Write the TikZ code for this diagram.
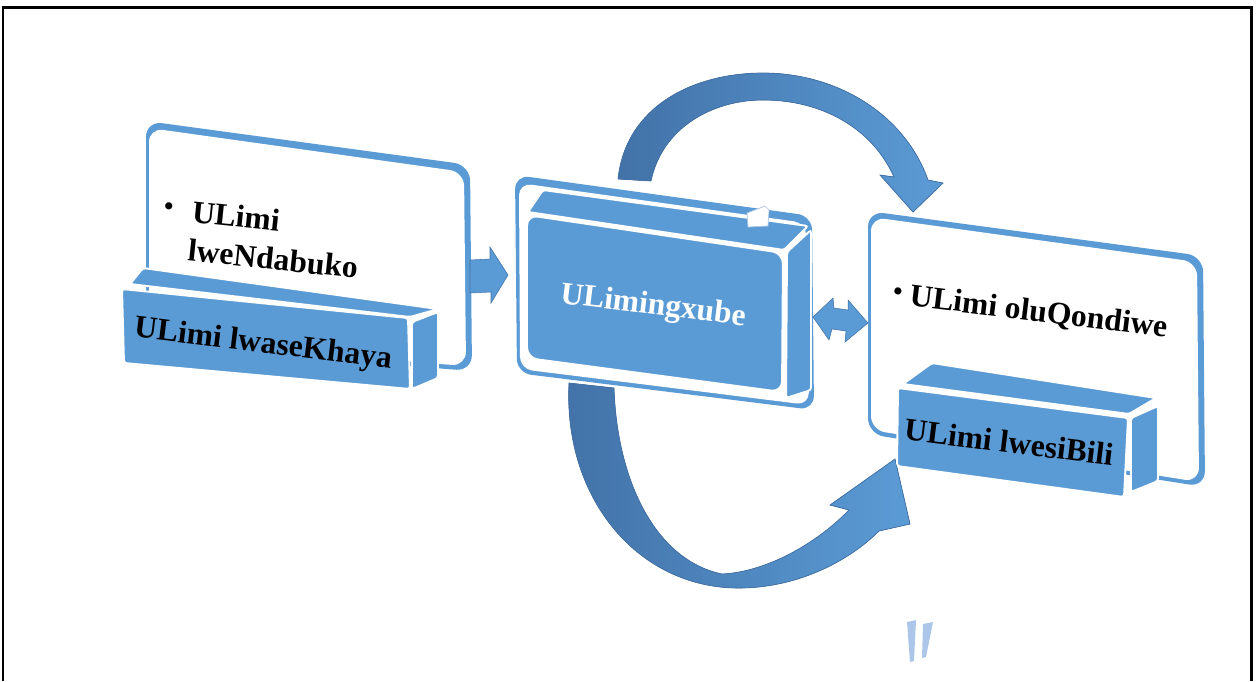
\documentclass[tikz,border=0pt]{standalone}
\usepackage{fontspec}
\setmainfont{Liberation Serif}
\definecolor{xblue}{RGB}{91,155,213}
\definecolor{xdark}{RGB}{66,114,168}
\definecolor{xpale}{RGB}{172,198,233}
\tikzset{
  face/.style={fill=xblue, draw=white, line width=1.1pt, rounded corners=1.5pt},
  lbl/.style={font=\fontsize{18}{22}\selectfont\bfseries, inner sep=0pt},
  band/.style={left color=xdark, right color=xblue, draw=xdark, line width=0.4pt}
}
\newcommand{\bul}{\raisebox{2.5pt}{\fontsize{15}{15}\selectfont\textbullet}}

\begin{document}
\begin{tikzpicture}[x=0.02cm,y=-0.02cm]
        \useasboundingbox (0,0) rectangle (1256,681);
        \draw [line width=1.7pt] (3,681) -- (3,7) -- (1251,7) -- (1251,681);

        \fill [band] (618,179) .. controls (626,105) and (695,73) .. (763,73) .. controls (838,73) and (905,115) .. (928,180)
              -- (943,183) -- (913,212) -- (880,175) -- (894,177)
              .. controls (872,128) and (822,100) .. (763,100) .. controls (712,100) and (662,128) .. (651,181) -- cycle;
        \fill [band] (569,383) .. controls (563,500) and (640,590) .. (742,588) .. controls (800,587) and (850,560) .. (879,531)
              -- (910,524) -- (895,459) -- (830,505) -- (849,510)
              .. controls (815,545) and (765,572) .. (722,574) .. controls (655,560) and (617,480) .. (614,388) -- cycle;

        \fill [xblue, rounded corners=9pt] (146,121) -- (470,165) -- (472,371) -- (146,345) -- cycle;
        \fill [white, rounded corners=8pt] (149,128) -- (464,172) -- (466,366) -- (149,341) -- cycle;
        \fill [face] (130,284) -- (143,268) -- (438,309) -- (410,317) -- cycle;
        \fill [face] (412,322) -- (438,312) -- (438,378) -- (412,389) -- cycle;
        \fill [face] (122,289) -- (408,318) -- (410,389) -- (124,363) -- cycle;

        \fill [xblue, rounded corners=8pt] (515,175) -- (812,216) -- (814,410) -- (517,373) -- cycle;
        \fill [white, rounded corners=7pt] (519,183) -- (806,223) -- (809,405) -- (520,369) -- cycle;
        \fill [face] (528,212) -- (543,190) -- (808,226) -- (784,250) -- cycle;
        \fill [face] (787,252) -- (811,230) -- (811,390) -- (786,398) -- cycle;
        \fill [face, rounded corners=6pt] (527,215) -- (783,253) -- (782,392) -- (527,358) -- cycle;
        \fill [white, draw=xpale, line width=0.4pt] (747,213) -- (765,206) -- (769,210) -- (768,226) -- (748,227) -- cycle;

        \fill [xblue, rounded corners=9pt] (868,211) -- (1203,256) -- (1205,487) -- (868,434) -- cycle;
        \fill [white, rounded corners=8pt] (871,217) -- (1197,262) -- (1199,482) -- (871,430) -- cycle;
        \fill [face] (903,384) -- (932,363) -- (1156,398) -- (1129,414) -- cycle;
        \fill [face] (1131,418) -- (1158,406) -- (1158,481) -- (1131,492) -- cycle;
        \fill [face] (898,388) -- (1128,418) -- (1124,497) -- (897,466) -- cycle;

        \fill [xblue, draw=xdark, line width=0.3pt] (470,260) -- (490,259) -- (490,247) -- (508,275) -- (491,303) -- (491,292) -- (470,293) -- cycle;
        \fill [xblue, draw=xdark, line width=0.3pt] (813,317) -- (833,298) -- (834,308) -- (848,310) -- (848,300) -- (868,323) -- (845,342) -- (846,331) -- (832,329) -- (829,340) -- cycle;

        \fill [xpale] (907,622) -- (916,620) -- (914,661) -- (910,662) -- cycle;
        \fill [xpale] (923,624) -- (933,622) -- (926,657) -- (922,658) -- cycle;

        \node [lbl, align=left, rotate=-6] (native) at (261,238) {\makebox[0.9em][l]{\bul}ULimi\\\hspace*{0.9em}lweNdabuko};
        \node [lbl, rotate=-7] (home) at (263,345) {ULimi lwaseKhaya};
        \node [lbl, rotate=-7, text=white] (mixed) at (653,307) {ULimingxube};
        \node [lbl, rotate=-7] (target) at (1030,312) {\bul\ ULimi oluQondiwe};
        \node [lbl, rotate=-7] (second) at (1009,442) {ULimi lwesiBili};
      \end{tikzpicture}
\end{document}
